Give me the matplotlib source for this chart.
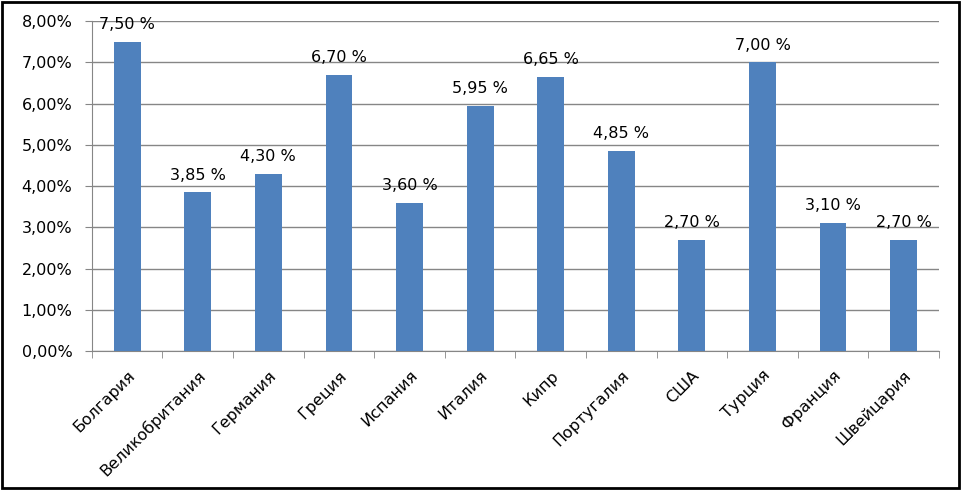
import matplotlib.pyplot as plt
from matplotlib.patches import Rectangle
import numpy as np

countries = ["Болгария", "Великобритания", "Германия", "Греция", "Испания", "Италия",
             "Кипр", "Португалия", "США", "Турция", "Франция", "Швейцария"]
rates = [7.50, 3.85, 4.30, 6.70, 3.60, 5.95, 6.65, 4.85, 2.70, 7.00, 3.10, 2.70]
yticks = [0, 1, 2, 3, 4, 5, 6, 7, 8]

plt.rcParams['font.family'] = ['DejaVu Sans']
fs = 11.5

fig = plt.figure(figsize=(9.67, 4.91), dpi=100)
ax = fig.add_axes([0.095, 0.285, 0.876, 0.672])

x = np.arange(len(countries))
bars = ax.bar(x, rates, width=0.38, color="#4F81BD", zorder=3)

for xi, v in zip(x, rates):
    ax.annotate(f"{v:.2f} %".replace(".", ","), (xi, v), xytext=(0, 7),
                textcoords="offset points", ha="center", va="bottom", fontsize=fs)

ax.set_xlim(-0.5, len(countries) - 0.5)
ax.set_ylim(0, 8)
ax.set_yticks(yticks)
ax.set_yticklabels([f"{t:.2f}%".replace(".", ",") for t in yticks], fontsize=fs)
ax.yaxis.grid(True, color="#868686", linewidth=1, zorder=0)

ax.set_xticks(x)
ax.set_xticklabels(countries, rotation=45, ha="right", rotation_mode="anchor", fontsize=fs)
ax.tick_params(axis="x", length=0, pad=12)
ax.set_xticks(np.arange(-0.5, len(countries)), minor=True)
ax.tick_params(axis="x", which="minor", length=5, color="#868686")
ax.tick_params(axis="y", length=5, color="#868686", pad=9)

for s in ["top", "right"]:
    ax.spines[s].set_visible(False)
for s in ["left", "bottom"]:
    ax.spines[s].set_color("#868686")

fig.patches.append(Rectangle((0.002, 0.006), 0.99, 0.99, transform=fig.transFigure,
                             fill=False, edgecolor="black", linewidth=2))

fig.savefig("out.png", dpi=100)
